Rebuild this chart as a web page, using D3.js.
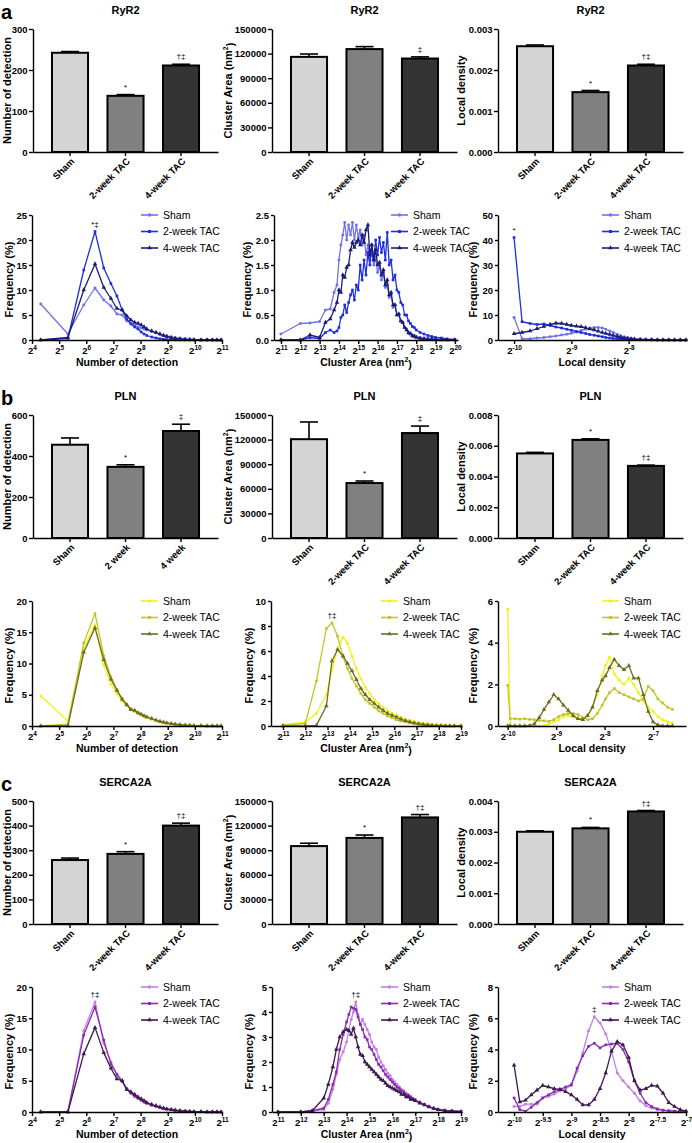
<!DOCTYPE html>
<html><head><meta charset="utf-8">
<script src="https://cdn.jsdelivr.net/npm/d3@7"></script>
<style>
body{margin:0;background:#fff;}
svg text, svg tspan{font-family:"Liberation Sans",Arial,sans-serif;fill:#000;}
.axis path,.axis line{stroke:#000;stroke-width:1.4;}
.axis text{font-size:9.5px;font-weight:bold;}
.narrow .axis text,.narrow .title,.narrow .xcat{font-family:"Liberation Sans Narrow","Liberation Sans",Arial,sans-serif;}
.title{font-size:11px;font-weight:bold;}
.xcat{font-size:9.5px;font-weight:bold;}
.ylab{font-size:11px;font-weight:bold;}
.xlab{font-size:10.5px;font-weight:bold;}
.leg{font-size:10.5px;}
.ann{font-size:8px;}
.letter{font-size:20px;font-weight:bold;}
</style></head><body>
<svg id="chart" width="692" height="1143"></svg>
<script>
// ---------------- DATA ----------------
const cats = ["Sham","2-week TAC","4-week TAC"];
const catsPln = ["Sham","2 week","4 week"];
const seriesNames = ["Sham","2-week TAC","4-week TAC"];

// bar charts (mean, SEM)
const ryrNd = [242,137,211],  ryrNdErr = [3,3,3];
const ryrCa = [116000,125500,114000], ryrCaErr = [3500,3000,2000];
const ryrLd = [0.00258,0.00146,0.00211], ryrLdErr = [0.00003,0.00004,0.00003];
const plnNd = [455,347,522], plnNdErr = [33,10,33];
const plnCa = [120500,67000,128000], plnCaErr = [21000,2500,8500];
const plnLd = [0.0055,0.00638,0.00469], plnLdErr = [0.00007,0.00007,0.00005];
const serNd = [260,285,400], serNdErr = [8,9,10];
const serCa = [95000,105000,130000], serCaErr = [3500,3500,3500];
const serLd = [0.00300,0.00311,0.00366], serLdErr = [0.00003,0.00003,0.00003];

// bar y ticks
const ticksNdRyr = [0,100,200,300];
const ticksNdPln = [0,200,400,600];
const ticksNdSer = [0,100,200,300,400,500];
const ticksCa = [0,30000,60000,90000,120000,150000];
const ticksLdRyr = [0,0.001,0.002,0.003];
const ticksLdPln = [0,0.002,0.004,0.006,0.008];
const ticksLdSer = [0,0.001,0.002,0.003,0.004];

// frequency distributions: number of detection (bin value)
const ndBins = [20,40,60,80,100,120,140,160,180,200,220,240,260,280,300,340,380,420,460,500,560,620,700,800,900,1000,1200,1400,1600,1800,2000];
const ryrNdSham = [7.2,1.2,7.0,10.4,8.0,6.8,5.2,5.0,3.8,3.4,3.0,2.6,2.4,2.2,2.0,1.7,1.4,1.1,0.9,0.8,0.6,0.45,0.35,0.25,0.18,0.12,0.08,0.05,0.03,0.02,0.01];
const ryrNd2 = [0,0.3,14.0,21.7,14.4,11.3,8.8,6.0,4.2,3.2,2.6,2.2,1.6,1.2,0.9,0.6,0.4,0.25,0.15,0.1,0.06,0.04,0.02,0.01,0,0,0,0,0,0,0];
const ryrNd4 = [0,0.5,10.0,15.2,10.5,8.3,6.3,6.0,4.8,4.0,3.5,3.3,3.0,2.6,2.2,1.8,1.5,1.2,0.9,0.7,0.45,0.3,0.2,0.12,0.08,0.05,0.03,0.02,0.01,0,0];
const plnNdSham = [4.8,0.8,12.5,16.2,9.7,6.7,5.2,4.0,3.2,2.7,2.3,2.0,1.8,1.6,1.4,1.1,0.9,0.75,0.6,0.5,0.4,0.3,0.22,0.15,0.1,0.08,0.05,0.03,0.02,0.01,0.01];
const plnNd2 = [0,0.3,13.3,18.0,11.2,7.9,5.8,4.3,3.4,2.8,2.4,2.1,1.8,1.6,1.4,1.1,0.9,0.7,0.55,0.45,0.35,0.25,0.18,0.12,0.08,0.06,0.04,0.02,0.01,0.01,0];
const plnNd4 = [0,0,11.8,15.7,10.6,7.5,5.7,4.3,3.4,2.6,2.5,2.1,1.9,1.6,1.45,1.2,0.95,0.75,0.6,0.5,0.38,0.28,0.2,0.13,0.09,0.06,0.04,0.02,0.01,0,0];
const serNdSham = [0,0,13.0,17.6,11.0,8.0,6.0,5.0,3.8,3.2,2.6,2.2,1.9,1.6,1.4,1.1,0.9,0.7,0.55,0.45,0.35,0.25,0.18,0.12,0.08,0.06,0.04,0.02,0.01,0.01,0];
const serNd2 = [0,0,12.3,16.8,11.5,7.7,6.0,4.9,3.6,3.0,2.5,2.2,1.9,1.6,1.4,1.1,0.9,0.7,0.55,0.45,0.35,0.26,0.18,0.12,0.08,0.06,0.04,0.02,0.01,0.01,0];
const serNd4 = [0,0,9.3,13.5,9.5,7.0,5.3,5.0,3.6,3.2,2.8,2.4,2.1,1.8,1.5,1.2,1.0,0.8,0.6,0.5,0.38,0.28,0.2,0.13,0.09,0.06,0.04,0.02,0.01,0.01,0];

// cluster area (log2 nm^2)
const ryrCaX = [11,12,12.5,13,13.3,13.55,13.75,13.9,14.0,14.1,14.2,14.3,14.4,14.5,14.6,14.7,14.8,14.9,15.0,15.1,15.2,15.3,15.4,15.5,15.6,15.7,15.8,15.9,16.0,16.1,16.2,16.3,16.4,16.5,16.6,16.7,16.8,16.9,17.0,17.1,17.2,17.3,17.4,17.5,17.6,17.7,17.8,17.9,18.0,18.2,18.4,18.6,18.8,19.0,19.3,19.6,20.0];
const ryrCaSham = [0.12,0.33,0.34,0.37,0.6,0.62,0.95,1.1,1.6,1.9,2.1,2.35,2.0,2.3,2.1,2.35,2.0,2.3,2.05,2.2,1.9,2.1,1.7,1.9,1.6,1.75,1.5,1.65,1.35,1.5,1.2,1.35,1.05,1.1,0.85,0.9,0.65,0.7,0.5,0.5,0.38,0.35,0.25,0.22,0.15,0.14,0.1,0.09,0.07,0.05,0.04,0.03,0.02,0.02,0.01,0.01,0.005];
const ryrCa2 = [0,0,0.05,0.03,0.15,0.2,0.15,0.18,0.25,0.45,0.5,0.7,0.55,0.75,0.9,1.0,0.8,1.1,1.0,1.5,1.2,1.6,1.3,1.75,1.5,1.9,1.6,2.0,1.7,2.05,1.75,1.95,1.6,2.15,1.5,1.6,1.2,1.3,1.0,0.95,0.75,0.7,0.5,0.5,0.38,0.33,0.27,0.25,0.2,0.15,0.12,0.09,0.07,0.05,0.04,0.02,0.01];
const ryrCa4 = [0,0,0.1,0.05,0.35,0.42,0.6,0.75,1.0,0.95,1.3,1.25,1.45,1.5,1.8,1.95,1.85,1.95,2.0,1.9,2.1,1.95,2.2,2.3,1.7,1.9,1.6,1.8,1.5,1.55,1.3,1.4,1.1,1.2,0.9,0.95,0.7,0.7,0.5,0.52,0.38,0.35,0.25,0.2,0.14,0.12,0.08,0.07,0.05,0.03,0.02,0.01,0.01,0.005,0,0,0];
const plnCaX = [11,12,12.5,12.95,13.2,13.45,13.7,13.9,14.1,14.3,14.5,14.7,14.9,15.1,15.3,15.5,15.7,15.9,16.1,16.3,16.5,16.7,16.9,17.1,17.3,17.5,17.7,17.9,18.1,18.3,18.5,18.7,19.0];
const plnCaSham = [0.1,0.3,1.0,2.5,4.5,6.2,7.1,6.6,5.6,4.6,3.8,3.1,2.6,2.1,1.8,1.5,1.25,1.0,0.85,0.7,0.55,0.45,0.35,0.28,0.22,0.17,0.13,0.1,0.08,0.06,0.05,0.04,0.03];
const plnCa2 = [0.05,0.2,3.6,7.8,8.25,7.2,5.5,4.6,3.8,3.2,2.6,2.1,1.8,1.5,1.2,1.0,0.8,0.65,0.5,0.4,0.32,0.25,0.2,0.15,0.12,0.09,0.07,0.05,0.04,0.03,0.02,0.01,0.01];
const plnCa4 = [0,0,0.05,1.6,5.2,6.1,5.6,5.0,4.4,3.7,3.0,2.5,2.1,1.8,1.5,1.25,1.0,0.85,0.7,0.55,0.42,0.32,0.24,0.17,0.12,0.08,0.05,0.03,0.02,0.01,0,0,0];
const serCaX = [11,12,12.5,13,13.2,13.4,13.55,13.7,13.85,14.0,14.1,14.2,14.3,14.4,14.5,14.6,14.7,14.8,14.9,15.0,15.1,15.2,15.3,15.4,15.5,15.6,15.7,15.8,15.9,16.0,16.1,16.2,16.3,16.4,16.5,16.6,16.7,16.8,16.9,17.0,17.2,17.4,17.6,17.8,18.0,18.3,18.6,19.0];
const serCaSham = [0,0,0.05,0.1,0.35,0.9,1.5,2.1,2.4,2.8,3.3,3.7,4.0,4.4,3.9,3.5,3.7,3.5,3.3,3.1,2.8,2.6,2.5,2.2,2.0,1.85,1.7,1.55,1.45,1.3,1.2,1.1,1.0,0.9,0.85,0.75,0.7,0.62,0.55,0.5,0.4,0.3,0.22,0.15,0.1,0.06,0.04,0.02];
const serCa2 = [0,0,0.05,0.15,0.5,1.1,1.6,2.5,3.1,3.6,3.9,4.2,4.15,4.1,3.8,3.5,3.3,3.0,2.9,2.6,2.5,2.3,2.1,1.9,1.8,1.65,1.5,1.4,1.3,1.2,1.1,1.0,0.95,0.85,0.8,0.7,0.65,0.6,0.5,0.45,0.38,0.3,0.22,0.15,0.1,0.06,0.04,0.02];
const serCa4 = [0,0,0.05,0.55,1.1,1.8,2.5,3.0,3.2,3.3,3.25,3.1,3.35,3.0,2.6,2.3,2.25,2.0,1.9,1.8,1.7,1.6,1.5,1.4,1.3,1.25,1.15,1.05,1.0,0.95,0.9,0.85,0.8,0.7,0.7,0.6,0.6,0.5,0.5,0.45,0.35,0.28,0.2,0.14,0.09,0.05,0.03,0.01];

// local density (log2)
const ryrLdX = [-10,-9.86,-9.72,-9.6,-9.48,-9.37,-9.27,-9.17,-9.08,-9.0,-8.91,-8.83,-8.75,-8.68,-8.6,-8.53,-8.46,-8.4,-8.33,-8.27,-8.2,-8.14,-8.08,-8.02,-7.96,-7.9,-7.8,-7.7,-7.6,-7.5,-7.4,-7.3,-7.2,-7.1,-7.0];
const ryrLdSham = [9.0,0.5,0.5,0.8,1.0,1.3,1.6,2.0,2.3,2.7,3.2,3.8,4.3,4.7,5.0,5.0,4.8,4.3,3.6,3.0,2.3,1.7,1.2,0.9,0.7,0.5,0.35,0.25,0.2,0.15,0.1,0.08,0.05,0.03,0.02];
const ryrLd2 = [41,7.3,6.6,6.2,6.4,5.8,5.2,4.8,4.3,3.9,3.4,3.0,2.6,2.2,1.9,1.6,1.3,1.0,0.8,0.6,0.5,0.4,0.3,0.25,0.2,0.15,0.1,0.07,0.05,0.03,0.02,0.01,0.01,0,0];
const ryrLd4 = [2.5,3.0,3.6,4.5,5.4,6.2,6.7,6.6,6.2,5.8,5.5,5.3,4.9,4.4,4.0,3.5,3.0,2.6,2.2,1.8,1.4,1.1,0.8,0.6,0.45,0.3,0.2,0.15,0.1,0.07,0.05,0.03,0.02,0.01,0];
const plnLdX = [-10,-9.95,-9.85,-9.75,-9.65,-9.55,-9.45,-9.35,-9.25,-9.15,-9.05,-8.95,-8.85,-8.75,-8.65,-8.55,-8.45,-8.35,-8.25,-8.15,-8.05,-7.98,-7.9,-7.8,-7.7,-7.6,-7.5,-7.4,-7.3,-7.2,-7.1,-7.0,-6.9,-6.8,-6.7,-6.6];
const plnLdSham = [5.6,0.05,0,0,0,0,0,0,0.02,0.1,0.2,0.3,0.45,0.5,0.45,0.35,0.35,0.5,0.9,1.5,2.4,2.9,3.3,2.5,2.2,2.0,2.3,2.0,1.6,1.2,0.9,0.7,0.45,0.3,0.2,0.15];
const plnLd2 = [1.95,0.35,0.35,0.33,0.35,0.32,0.3,0.27,0.25,0.22,0.3,0.45,0.55,0.6,0.6,0.55,0.4,0.3,0.35,0.6,1.0,1.3,1.6,1.8,1.6,1.5,1.4,1.3,1.2,1.3,1.9,1.7,1.3,1.1,0.9,0.8];
const plnLd4 = [0,0,0,0,0,0.02,0.1,0.4,0.8,1.15,1.5,1.3,1.0,0.75,0.5,0.35,0.3,0.5,0.9,1.7,2.2,2.4,2.8,3.2,2.9,2.7,2.9,2.3,2.3,1.5,0.7,0.2,0.05,0,0,0];
const serLdX = [-10,-9.9,-9.8,-9.7,-9.6,-9.5,-9.4,-9.3,-9.2,-9.1,-9.0,-8.9,-8.8,-8.7,-8.6,-8.5,-8.4,-8.3,-8.2,-8.1,-8.0,-7.9,-7.8,-7.7,-7.6,-7.5,-7.4,-7.3,-7.2,-7.1,-7.0];
const serLdSham = [0.35,0.35,0.5,0.5,0.5,0.9,1.0,1.15,1.35,1.5,1.7,2.6,3.8,5.2,6.1,5.7,5.0,3.9,2.5,2.0,1.6,1.2,0.7,0.4,0.25,0.15,0.1,0.07,0.05,0.03,0.02];
const serLd2 = [0.9,0.15,0.05,0.3,0.6,0.9,1.1,1.3,1.45,1.6,1.75,2.8,3.6,4.2,4.4,4.1,4.3,4.35,4.4,4.0,3.2,2.0,1.2,0.6,0.35,0.2,0.12,0.08,0.05,0.03,0.02];
const serLd4 = [3.0,0.65,0.75,1.1,1.4,1.7,1.6,1.5,1.45,1.3,1.1,0.8,0.45,0.45,0.8,1.5,2.5,3.9,4.5,4.3,3.5,2.0,1.4,1.5,1.7,1.65,1.2,0.6,0.35,0.15,0.05];

// x tick values (log2 exponents / bin values)
const ndTicks = [16,32,64,128,256,512,1024,2048];
const caTicksRyr = [11,12,13,14,15,16,17,18,19,20];
const caTicks = [11,12,13,14,15,16,17,18,19];
const ldTicksRyr = [-10,-9,-8];
const ldTicksPln = [-10,-9,-8,-7];
const ldTicksSer = [-10,-9.5,-9,-8.5,-8,-7.5,-7];

// ---------------- STYLE / LAYOUT ----------------
const ROWS = [0,386,772];
const BAR_TOP = 29, BAR_BOT = 152, LINE_TOP = 215, LINE_BOT = 340;
const barFills = ["#d4d4d4","#808080","#343434"];
const barCols = [{ax:33,x1:218,ylx:11},{ax:272,x1:457,ylx:232},{ax:498,x1:683,ylx:465}];
const palettes = [
  ["#7272ee","#1d2fe0","#1c1c74"],
  ["#f2f21a","#c4c42a","#6d6d22"],
  ["#c67ee2","#8a2cb2","#3d1a50"]
];
const symTypes = [d3.symbolCircle, d3.symbolSquare, d3.symbolTriangle];

const svg = d3.select("#chart");

function ylabel(g, x, y, main, sup){
  const t = g.append("text").attr("class","ylab").attr("text-anchor","middle")
    .attr("transform",`translate(${x},${y}) rotate(-90)`).text(main);
  if(sup){ t.append("tspan").attr("font-size","7px").attr("dy","-0.6em").text("2");
           t.append("tspan").attr("dy","0.6em").text(")"); }
}

function barPanel(o){
  const col = barCols[o.col];
  const g = svg.append("g").attr("transform",`translate(0,${ROWS[o.row]})`).attr("class", o.row>0?"narrow":"");
  const x = d3.scaleBand().domain(o.cats).range([col.ax,col.x1]).paddingInner(0.35).paddingOuter(0.342);
  const y = d3.scaleLinear().domain([0,o.max]).range([BAR_BOT,BAR_TOP]);
  g.append("text").attr("class","title").attr("x",(col.ax+col.x1)/2).attr("y",14).attr("text-anchor","middle").text(o.title);
  g.selectAll("rect.bar").data(o.vals).join("rect").attr("class","bar")
    .attr("x",(d,i)=>x(o.cats[i])).attr("y",d=>y(d)).attr("width",x.bandwidth())
    .attr("height",d=>y(0)-y(d)).attr("fill",(d,i)=>barFills[i]).attr("stroke","#000").attr("stroke-width",2);
  o.vals.forEach((v,i)=>{
    const cx = x(o.cats[i])+x.bandwidth()/2, top = y(v+o.errs[i]);
    g.append("line").attr("x1",cx).attr("x2",cx).attr("y1",y(v)).attr("y2",top).attr("stroke","#000").attr("stroke-width",1.6);
    g.append("line").attr("x1",cx-9).attr("x2",cx+9).attr("y1",top).attr("y2",top).attr("stroke","#000").attr("stroke-width",1.6);
    if(o.ann[i]) g.append("text").attr("class","ann").attr("x",cx).attr("y",top-5).attr("text-anchor","middle").text(o.ann[i]);
  });
  g.append("g").attr("class","axis").attr("transform",`translate(${col.ax},0)`)
    .call(d3.axisLeft(y).tickValues(o.ticks).tickFormat(o.fmt).tickSize(4).tickPadding(1.5).tickSizeOuter(0));
  g.append("g").attr("class","axis").attr("transform",`translate(0,${BAR_BOT})`)
    .call(d3.axisBottom(x).tickSize(4).tickSizeOuter(0).tickFormat(""));
  o.cats.forEach(c=>{
    const cx = x(c)+x.bandwidth()/2;
    g.append("text").attr("class","xcat").attr("text-anchor","end")
      .attr("transform",`translate(${cx+5},${BAR_BOT+10}) rotate(-45)`).text(c);
  });
  ylabel(g, col.ylx, (BAR_TOP+BAR_BOT)/2, o.ylabel, o.ysup);
}

function linePanel(o){
  const g = svg.append("g").attr("transform",`translate(0,${ROWS[o.row]})`);
  const x = o.log ? d3.scaleLog().base(2).domain(o.xDomain).range([o.ax,o.x1])
                  : d3.scaleLinear().domain(o.xDomain).range([o.ax,o.x1]);
  const y = d3.scaleLinear().domain([0,o.yMax]).range([LINE_BOT,LINE_TOP]);
  const cols = palettes[o.row];
  const line = d3.line().x(d=>x(d[0])).y(d=>y(d[1]));
  o.series.forEach((ys,k)=>{
    const pts = o.xs.map((xv,i)=>[xv,ys[i]]);
    g.append("path").datum(pts).attr("d",line).attr("fill","none").attr("stroke",cols[k])
      .attr("stroke-width",1.3).attr("stroke-linejoin","round");
    const sym = d3.symbol().type(symTypes[k]).size(k===2?9:7)();
    g.selectAll(null).data(pts).join("path").attr("d",sym)
      .attr("transform",d=>`translate(${x(d[0])},${y(d[1])})`).attr("fill",cols[k]);
  });
  // axes
  g.append("g").attr("class","axis").attr("transform",`translate(${o.ax},0)`)
    .call(d3.axisLeft(y).tickValues(o.yTicks).tickFormat(o.yFmt).tickSize(3).tickPadding(2).tickSizeOuter(0));
  const xg = g.append("g").attr("class","axis").attr("transform",`translate(0,${LINE_BOT})`)
    .call(d3.axisBottom(x).tickValues(o.xTicks).tickSize(4).tickSizeOuter(0));
  xg.selectAll(".tick text").each(function(d){
    const t = d3.select(this); t.text(null);
    t.append("tspan").text("2");
    const e = o.log ? Math.round(Math.log2(d)) : d;
    t.append("tspan").attr("font-size","6.5px").attr("dy","-0.55em").text(String(e));
  });
  // legend
  seriesNames.forEach((nm,k)=>{
    const ly = LINE_TOP + k*16.5;
    g.append("line").attr("x1",o.legX).attr("x2",o.legX+17).attr("y1",ly).attr("y2",ly)
      .attr("stroke",cols[k]).attr("stroke-width",1.6);
    g.append("path").attr("d",d3.symbol().type(symTypes[k]).size(9)())
      .attr("transform",`translate(${o.legX+8.5},${ly})`).attr("fill",cols[k]);
    g.append("text").attr("class","leg").attr("x",o.legX+22).attr("y",ly).attr("dy","0.35em").text(nm);
  });
  // labels
  const xl = g.append("text").attr("class","xlab").attr("x",(o.ax+o.x1)/2).attr("y",366)
    .attr("text-anchor","middle").text(o.xlabel);
  if(o.xsup){ xl.append("tspan").attr("font-size","7px").attr("dy","-0.6em").text("2");
              xl.append("tspan").attr("dy","0.6em").text(")"); }
  ylabel(g, o.ylx, (LINE_TOP+LINE_BOT)/2+2, "Frequency (%)");
  if(o.ann) g.append("text").attr("class","ann").attr("x",x(o.ann.x)).attr("y",y(o.ann.y)-5)
    .attr("text-anchor","middle").text(o.ann.t);
}

// letters
["a","b","c"].forEach((l,i)=>svg.append("text").attr("class","letter").attr("x",1).attr("y",ROWS[i]+19).text(l));

const fInt = d3.format("d"), f3 = d3.format(".3f"), f1 = d3.format(".1f");

// ---- bar panels ----
barPanel({row:0,col:0,title:"RyR2",cats:cats,vals:ryrNd,errs:ryrNdErr,max:300,ticks:ticksNdRyr,fmt:fInt,ann:["","*","†‡"],ylabel:"Number of detection"});
barPanel({row:0,col:1,title:"RyR2",cats:cats,vals:ryrCa,errs:ryrCaErr,max:150000,ticks:ticksCa,fmt:fInt,ann:["","","‡"],ylabel:"Cluster Area  (nm",ysup:true});
barPanel({row:0,col:2,title:"RyR2",cats:cats,vals:ryrLd,errs:ryrLdErr,max:0.003,ticks:ticksLdRyr,fmt:f3,ann:["","*","†‡"],ylabel:"Local density"});
barPanel({row:1,col:0,title:"PLN",cats:catsPln,vals:plnNd,errs:plnNdErr,max:600,ticks:ticksNdPln,fmt:fInt,ann:["","*","‡"],ylabel:"Number of detection"});
barPanel({row:1,col:1,title:"PLN",cats:cats,vals:plnCa,errs:plnCaErr,max:150000,ticks:ticksCa,fmt:fInt,ann:["","*","‡"],ylabel:"Cluster Area (nm",ysup:true});
barPanel({row:1,col:2,title:"PLN",cats:cats,vals:plnLd,errs:plnLdErr,max:0.008,ticks:ticksLdPln,fmt:f3,ann:["","*","†‡"],ylabel:"Local density"});
barPanel({row:2,col:0,title:"SERCA2A",cats:cats,vals:serNd,errs:serNdErr,max:500,ticks:ticksNdSer,fmt:fInt,ann:["","*","†‡"],ylabel:"Number of detection"});
barPanel({row:2,col:1,title:"SERCA2A",cats:cats,vals:serCa,errs:serCaErr,max:150000,ticks:ticksCa,fmt:fInt,ann:["","*","†‡"],ylabel:"Cluster Area (nm",ysup:true});
barPanel({row:2,col:2,title:"SERCA2A",cats:cats,vals:serLd,errs:serLdErr,max:0.004,ticks:ticksLdSer,fmt:f3,ann:["","*","†‡"],ylabel:"Local density"});

// ---- distribution panels ----
linePanel({row:0,ax:32,x1:222,log:true,xDomain:[16,2048],xTicks:ndTicks,yMax:25,yTicks:[0,5,10,15,20,25],yFmt:fInt,
  xs:ndBins,series:[ryrNdSham,ryrNd2,ryrNd4],legX:141,xlabel:"Number of detection",ylx:13,ann:{x:80,y:21.7,t:"*‡"}});
linePanel({row:0,ax:274,x1:458,log:false,xDomain:[10.64,20.16],xTicks:caTicksRyr,yMax:2.5,yTicks:[0,0.5,1,1.5,2,2.5],yFmt:f1,
  xs:ryrCaX,series:[ryrCaSham,ryrCa2,ryrCa4],legX:391,xlabel:"Cluster Area  (nm",xsup:true,ylx:251});
linePanel({row:0,ax:498,x1:686,log:false,xDomain:[-10.28,-7.0],xTicks:ldTicksRyr,yMax:50,yTicks:[0,10,20,30,40,50],yFmt:fInt,
  xs:ryrLdX,series:[ryrLdSham,ryrLd2,ryrLd4],legX:602,xlabel:"Local density",ylx:477,ann:{x:-10,y:41,t:"*"}});

linePanel({row:1,ax:32,x1:222,log:true,xDomain:[16,2048],xTicks:ndTicks,yMax:20,yTicks:[0,5,10,15,20],yFmt:fInt,
  xs:ndBins,series:[plnNdSham,plnNd2,plnNd4],legX:141,xlabel:"Number of detection",ylx:13});
linePanel({row:1,ax:271,x1:461,log:false,xDomain:[10.46,19],xTicks:caTicks,yMax:10,yTicks:[0,2,4,6,8,10],yFmt:fInt,
  xs:plnCaX,series:[plnCaSham,plnCa2,plnCa4],legX:381,xlabel:"Cluster Area (nm",xsup:true,ylx:253,ann:{x:13.2,y:8.25,t:"†‡"}});
linePanel({row:1,ax:498,x1:686,log:false,xDomain:[-10.2,-6.32],xTicks:ldTicksPln,yMax:6,yTicks:[0,2,4,6],yFmt:fInt,
  xs:plnLdX,series:[plnLdSham,plnLd2,plnLd4],legX:602,xlabel:"Local density",ylx:477});

linePanel({row:2,ax:32,x1:222,log:true,xDomain:[16,2048],xTicks:ndTicks,yMax:20,yTicks:[0,5,10,15,20],yFmt:fInt,
  xs:ndBins,series:[serNdSham,serNd2,serNd4],legX:141,xlabel:"Number of detection",ylx:13,ann:{x:80,y:17.6,t:"†‡"}});
linePanel({row:2,ax:272,x1:461,log:false,xDomain:[10.74,19],xTicks:caTicks,yMax:5,yTicks:[0,1,2,3,4,5],yFmt:fInt,
  xs:serCaX,series:[serCaSham,serCa2,serCa4],legX:381,xlabel:"Cluster Area (nm",xsup:true,ylx:253,ann:{x:14.4,y:4.4,t:"†‡"}});
linePanel({row:2,ax:498,x1:686,log:false,xDomain:[-10.28,-7.0],xTicks:ldTicksSer,yMax:8,yTicks:[0,2,4,6,8],yFmt:fInt,
  xs:serLdX,series:[serLdSham,serLd2,serLd4],legX:602,xlabel:"Local density",ylx:477,ann:{x:-8.6,y:6.1,t:"‡"}});
</script></body></html>
